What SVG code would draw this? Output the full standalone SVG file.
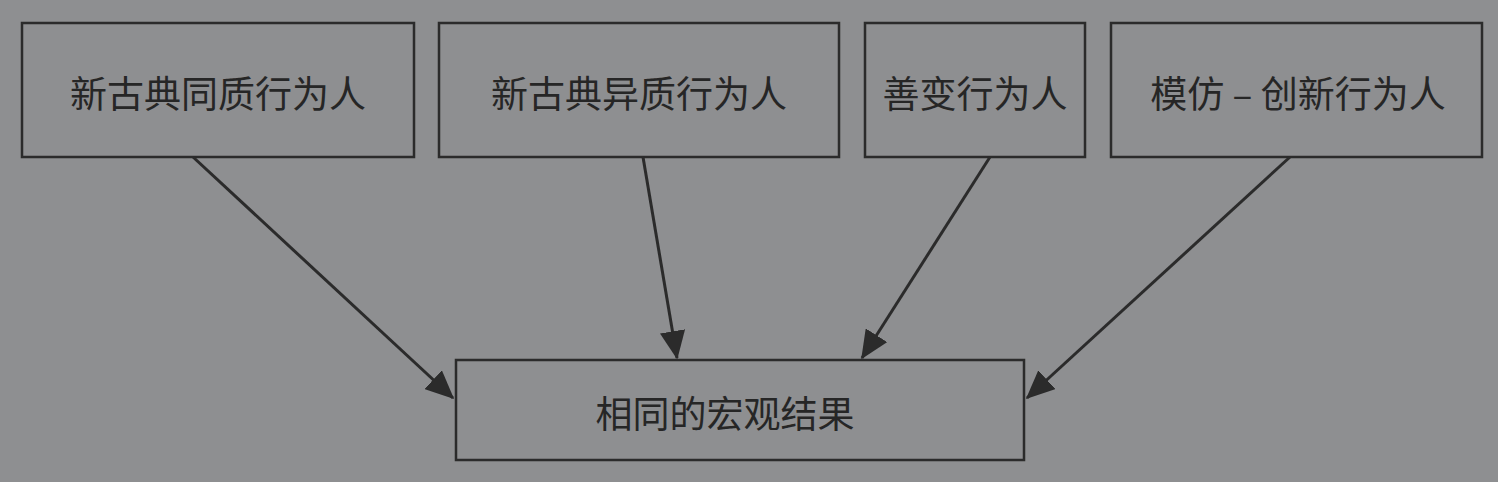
<svg xmlns="http://www.w3.org/2000/svg" width="1498" height="482" viewBox="0 0 1498 482">
<style>
.box{fill:none;stroke:#2b2b2b;stroke-width:2.5}
.lbl{font-family:"Noto Sans CJK SC","Liberation Sans",sans-serif;font-size:37px;fill:#262626;text-anchor:middle;dominant-baseline:central}
.con{stroke:#2b2b2b;stroke-width:3;fill:none;marker-end:url(#ah)}
</style>
<defs>
<marker id="ah" markerWidth="9.5" markerHeight="8.5" refX="9" refY="4.25" orient="auto" markerUnits="strokeWidth">
<path d="M0,0 L9.5,4.25 L0,8.5 Z" fill="#2b2b2b"/>
</marker>
</defs>
<rect width="1498" height="482" fill="#8e8f91"/>
<g id="n1"><rect class="box" x="22" y="23" width="392" height="134"/><text class="lbl" x="218" y="92">新古典同质行为人</text></g>
<g id="n2"><rect class="box" x="439" y="23" width="400" height="134"/><text class="lbl" x="639" y="92">新古典异质行为人</text></g>
<g id="n3"><rect class="box" x="865" y="23" width="220" height="134"/><text class="lbl" x="975" y="92">善变行为人</text></g>
<g id="n4"><rect class="box" x="1111" y="23" width="371" height="134"/><text class="lbl" x="1298" y="92">模仿 – 创新行为人</text></g>
<g id="n5"><rect class="box" x="456" y="360" width="568" height="100"/><text class="lbl" x="725" y="412">相同的宏观结果</text></g>
<g id="connectors">
<line class="con" x1="193" y1="157" x2="453" y2="398"/>
<line class="con" x1="643" y1="157" x2="677" y2="358"/>
<line class="con" x1="990" y1="157" x2="862" y2="358"/>
<line class="con" x1="1290" y1="157" x2="1027" y2="398"/>
</g>
</svg>
